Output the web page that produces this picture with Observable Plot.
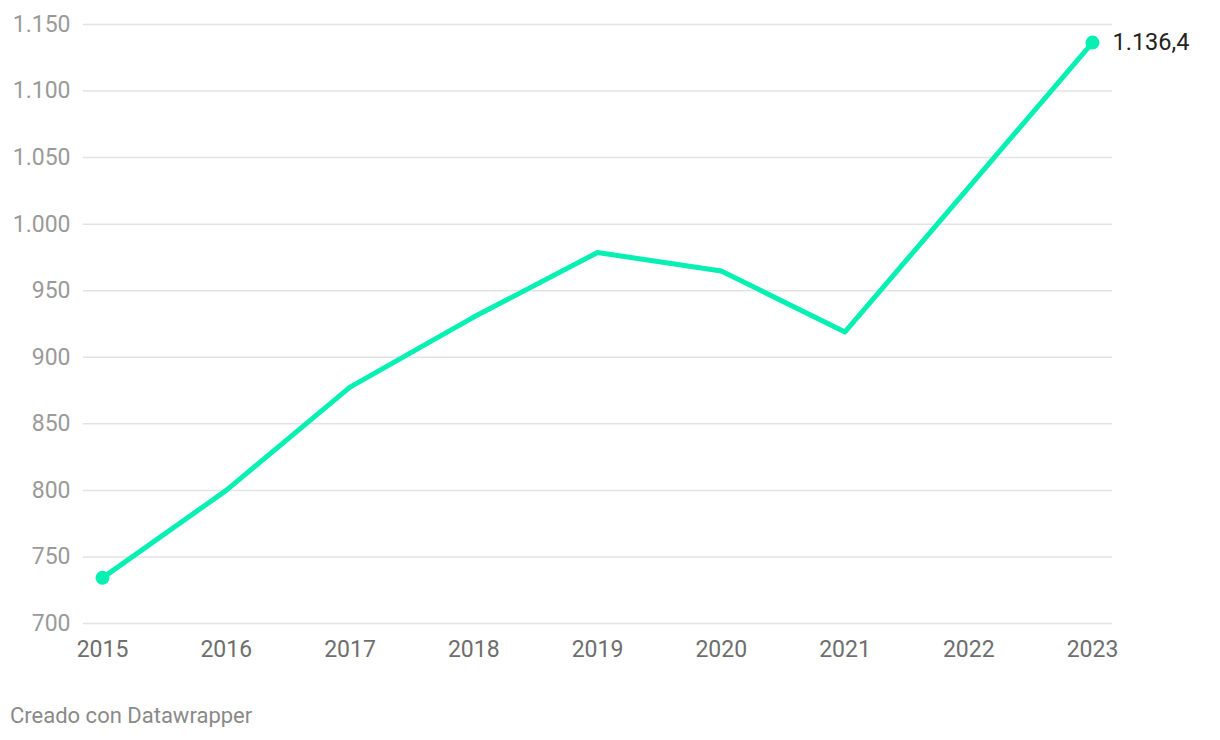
<!DOCTYPE html>
<html>
<head>
<meta charset="utf-8">
<script src="https://cdn.jsdelivr.net/npm/d3@7"></script>
<script src="https://cdn.jsdelivr.net/npm/@observablehq/plot@0.6"></script>
<style>
  body { margin: 0; background: #fff; font-family: Roboto, "Noto Sans", sans-serif; }
  #chart svg { display: block; }
  .caption { font-family: Roboto, sans-serif; font-size: 22px; color: #8a8a8a; margin: 19px 0 0 10px; line-height: 1; }
</style>
</head>
<body>
<div id="chart"></div>
<div class="caption">Creado con Datawrapper</div>
<script>
const years = [2015, 2016, 2017, 2018, 2019, 2020, 2021, 2022, 2023];
const values = [734.3, 800.0, 877.6, 930.2, 978.7, 964.8, 919.0, 1027.7, 1136.4];
const yTicks = [700, 750, 800, 850, 900, 950, 1000, 1050, 1100, 1150];
const endLabel = "1.136,4";

const data = years.map((y, i) => ({year: y, value: values[i]}));
const ends = [data[0], data[data.length - 1]];
const locale = d3.formatLocale({decimal: ",", thousands: ".", grouping: [3], currency: ["", "€"]});
const fmt = locale.format(",d");

const chart = Plot.plot({
  width: 1220,
  height: 686,
  marginLeft: 83,
  marginRight: 108,
  marginTop: 24,
  marginBottom: 63,
  style: {fontFamily: "Roboto, sans-serif", fontSize: "23px", background: "#fff"},
  x: {domain: [2015, 2023], insetLeft: 19, insetRight: 20, label: null},
  y: {domain: [700, 1150], label: null},
  marks: [
    Plot.ruleY(yTicks, {stroke: "#e3e3e3", strokeWidth: 1.5}),
    Plot.axisY(yTicks, {tickFormat: fmt, tickSize: 0, tickPadding: 13, fill: "#9a9a9a", fontSize: 23, label: null}),
    Plot.axisX(years, {tickFormat: d => String(d), tickSize: 0, tickPadding: 17, fill: "#6e6e6e", fontSize: 23, label: null}),
    Plot.line(data, {x: "year", y: "value", stroke: "#05f0b2", strokeWidth: 5, strokeLinejoin: "round"}),
    Plot.dot(ends, {x: "year", y: "value", r: 7, fill: "#05f0b2", stroke: "none"}),
    Plot.text([data[data.length - 1]], {x: "year", y: "value", text: () => endLabel, dx: 20, textAnchor: "start", fill: "#222", fontSize: 23.5})
  ]
});
document.getElementById("chart").appendChild(chart);
</script>
</body>
</html>
